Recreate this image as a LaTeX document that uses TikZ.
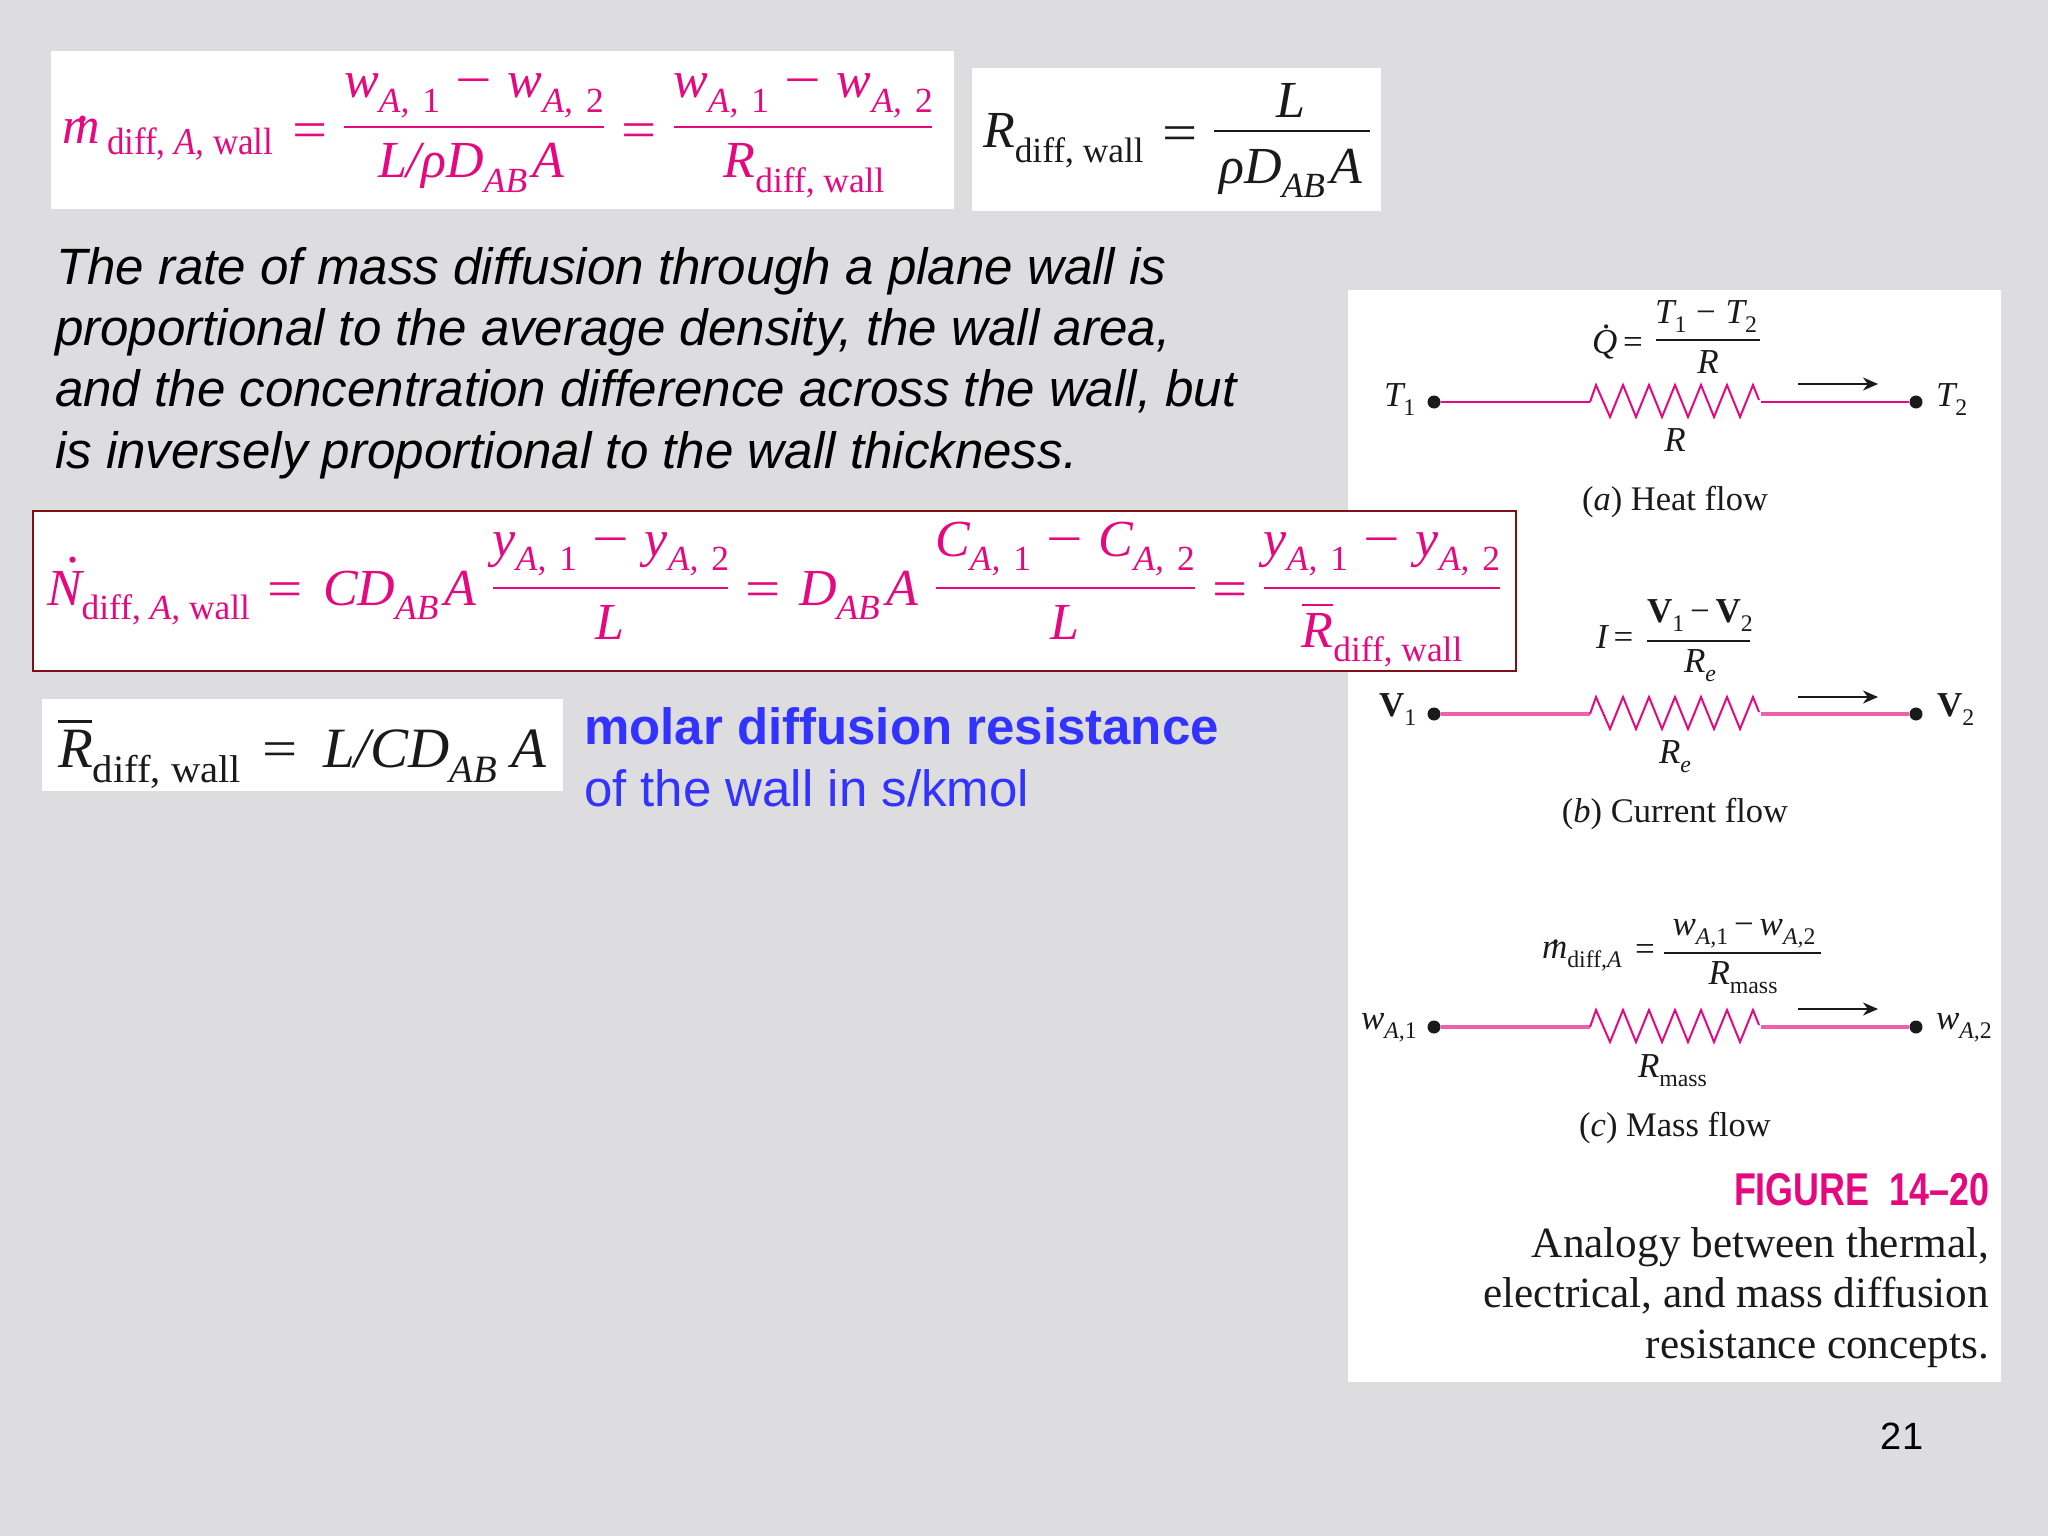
\documentclass[tikz,border=0pt]{standalone}
\usepackage{fontspec}
\usepackage{graphicx}
\setmainfont{Liberation Serif}
\newfontfamily\arialf{Liberation Sans}
\definecolor{bgc}{HTML}{DDDDDF}
\definecolor{pnk}{HTML}{E5097F}
\definecolor{blu}{HTML}{3333FF}
\definecolor{dred}{HTML}{7F1018}
\definecolor{ink}{HTML}{1A1A1A}
\newcommand{\Sb}[1]{\raisebox{-.28em}{\scalebox{.68}{#1}}}
\newcommand{\SbU}[1]{\Sb{\textup{#1}}}
\newcommand{\fs}[1]{\fontsize{#1}{#1}\selectfont}
\newcommand{\Eq}{\scalebox{1.2}[1]{\textup{=}}}
\newcommand{\Mn}{\hspace{.05em}\scalebox{1.25}[1]{\textup{−}}\hspace{.05em}}
\newcommand{\overR}[1]{\rlap{\raisebox{.78em}{\rule{.6em}{.045em}}}#1}
\newcommand{\Ndot}{\rlap{\raisebox{.82em}{\hspace{.38em}\textup{.}}}N}
\newcommand{\mdot}{\rlap{\raisebox{.42em}{\hspace{.27em}\textup{.}}}m}
\newcommand{\Qdot}{\rlap{\raisebox{.7em}{\hspace{.28em}\textup{.}}}Q}
\usetikzlibrary{arrows.meta}
\tikzset{
 txt/.style={inner sep=0pt,outer sep=0pt,anchor=base},
 lft/.style={txt,anchor=base west},
 rgt/.style={txt,anchor=base east},
 eqbig/.style={text=pnk,font=\fs{52}\itshape},
 eqblk/.style={text=ink,font=\fs{52}\itshape},
 eqmol/.style={text=ink,font=\fs{57}\itshape},
 smalleq/.style={text=ink,font=\fs{35}\itshape},
 capt/.style={text=ink,font=\fs{34.5}},
 figc/.style={rgt,text=ink,font=\fs{43.2}},
 para/.style={lft,text=black,font=\arialf\fs{51.1}\itshape},
 bluet/.style={lft,text=blu,font=\arialf\fs{51}},
 fbarp/.style={draw=pnk,line width=2.4pt},
 fbark/.style={draw=ink,line width=2pt},
 fbars/.style={draw=ink,line width=1.5pt},
 wire/.style={draw=pnk,line width=2.4pt},
 wirepale/.style={draw=pnk!65!white,line width=3.4pt},
 zigz/.style={draw=pnk,line width=2pt,line join=miter},
 dotn/.style={circle,fill=ink,inner sep=0pt,minimum size=13pt},
 flow/.style={draw=ink,line width=2pt,-{Stealth[length=15pt,width=13pt]}},
}
\newcommand{\zig}{-- ++(6,-17) -- ++(14,32) -- ++(13,-32) -- ++(13,32) -- ++(13,-32) -- ++(13,32) -- ++(13,-32) -- ++(13,32) -- ++(13,-32) -- ++(13,32) -- ++(13,-32) -- ++(13,32) -- ++(13,-32) -- ++(6,15)}
\begin{document}
\begin{tikzpicture}[x=1pt,y=-1pt]
\useasboundingbox (0,0) rectangle (2048,1536);
\fill[bgc] (0,0) rectangle (2048,1536);
% white panels
\fill[white] (51,51) rectangle (954,209);
\fill[white] (972,68) rectangle (1381,211);
\fill[white] (1348,290) rectangle (2001,1382);
\fill[white] (42,699) rectangle (563,791);
\draw[dred,line width=2pt,fill=white] (33,511) rectangle (1516,671);
% top left equation
\node[lft,eqbig] (m1) at (62,143) {\mdot};
\node[lft,eqbig,font=\fs{38}] (m1s) at (107,155) {\scalebox{.92}[1]{\textup{diff,} \textit{A,} \textup{wall}}};
\node[txt,eqbig] (m1e) at (310,147) {\Eq};
\node[txt,eqbig] (n1) at (474,98) {w\Sb{A,} \SbU{1} \Mn{} w\Sb{A,} \SbU{2}};
\draw[fbarp] (344,127) -- (604,127);
\node[txt,eqbig] (d1) at (471,178) {L/ρD\Sb{AB}\kern5ptA};
\node[txt,eqbig] (m2e) at (639,147) {\Eq};
\node[txt,eqbig] (n2) at (803,98) {w\Sb{A,} \SbU{1} \Mn{} w\Sb{A,} \SbU{2}};
\draw[fbarp] (674,127) -- (932,127);
\node[txt,eqbig] (d2) at (804,178) {R\SbU{diff, wall}};
% top right equation
\node[lft,eqblk] (r1) at (983,148) {R\SbU{diff, wall}};
\node[txt,eqblk] (r1e) at (1180,150) {\Eq};
\node[txt,eqblk] (r1n) at (1291,118) {L};
\draw[fbark] (1214,131) -- (1370,131);
\node[txt,eqblk] (r1d) at (1291,183) {ρD\Sb{AB}\kern6ptA};
% paragraph
\node[para] (p1) at (56,284) {The rate of mass diffusion through a plane wall is};
\node[para] (p2) at (55,345) {proportional to the average density, the wall area,};
\node[para] (p3) at (55,406) {and the concentration difference across the wall, but};
\node[para] (p4) at (55,468) {is inversely proportional to the wall thickness.};
% boxed equation
\node[lft,eqbig] (b0) at (47,605) {\Ndot\Sb{\textup{diff,} \textit{A,} \textup{wall}}};
\node[txt,eqbig] (b0e) at (285,606) {\Eq};
\node[lft,eqbig] (b1) at (323,605) {CD\Sb{AB}\kern6ptA};
\node[txt,eqbig] (bn1) at (611,556) {y\Sb{A,} \SbU{1} \Mn{} y\Sb{A,} \SbU{2}};
\draw[fbarp] (493,588) -- (728,588);
\node[txt,eqbig] (bd1) at (610,639) {L};
\node[txt,eqbig] (b1e) at (763,606) {\Eq};
\node[lft,eqbig] (b2) at (799,605) {D\Sb{AB}\kern7ptA};
\node[txt,eqbig] (bn2) at (1065,556) {C\Sb{A,} \SbU{1} \Mn{} C\Sb{A,} \SbU{2}};
\draw[fbarp] (936,588) -- (1195,588);
\node[txt,eqbig] (bd2) at (1065,639) {L};
\node[txt,eqbig] (b2e) at (1230,606) {\Eq};
\node[txt,eqbig] (bn3) at (1382,556) {y\Sb{A,} \SbU{1} \Mn{} y\Sb{A,} \SbU{2}};
\draw[fbarp] (1264,588) -- (1500,588);
\node[txt,eqbig] (bd3) at (1382,647) {\overR{R}\SbU{diff, wall}};
% molar
\node[lft,eqmol] (mr) at (58,767) {\overR{R}\scalebox{1.05}[1]{\SbU{diff, wall}}};
\node[txt,eqblk] (mre) at (280,766) {\Eq};
\node[lft,eqmol] (mrr) at (323,767) {L/CD\Sb{AB}\kern14ptA};
\node[bluet,font=\arialf\fs{51}\bfseries] (bl1) at (584,744) {molar diffusion resistance};
\node[bluet] (bl2) at (584,806) {of the wall in s/kmol};
\node[txt,text=black,font=\arialf\fs{38}] (pg) at (1902,1449) {21};
% (a)
\node[dotn] (t1) at (1434,402) {};
\node[dotn] (t2) at (1916,402) {};
\coordinate (al) at (1590,402);
\coordinate (ar) at (1761,402);
\draw[wire] (t1) -- (al);
\draw[wire] (ar) -- (t2);
\draw[zigz] (al) \zig;
\coordinate (a1) at (1798,384); \coordinate (a2) at (1878,384);
\draw[flow] (a1) -- (a2);
\node[lft,smalleq] (tl1) at (1384,406) {T\SbU{1}};
\node[lft,smalleq] (tl2) at (1936,406) {T\SbU{2}};
\node[lft,smalleq] (qq) at (1592,353) {\Qdot\,\textup{=}};
\node[txt,smalleq] (qn) at (1706,323) {T\SbU{1}\;\textup{−}\;T\SbU{2}};
\draw[fbars] (1656,340) -- (1760,340);
\node[txt,smalleq] (qd) at (1708,373) {R};
\node[txt,smalleq] (rla) at (1675,451) {R};
\node[txt,capt] (ca) at (1675,510) {(\textit{a}) Heat flow};
% (b)
\node[dotn] (v1) at (1434,714) {};
\node[dotn] (v2) at (1916,714) {};
\coordinate (bl) at (1590,714);
\coordinate (br) at (1761,714);
\draw[wirepale] (v1) -- (bl);
\draw[wirepale] (br) -- (v2);
\draw[zigz] (bl) \zig;
\coordinate (b1a) at (1798,697); \coordinate (b2a) at (1878,697);
\draw[flow] (b1a) -- (b2a);
\node[lft,smalleq] (vl1) at (1379,716) {\textbf{\textup{V}}\SbU{1}};
\node[lft,smalleq] (vl2) at (1937,716) {\textbf{\textup{V}}\SbU{2}};
\node[lft,smalleq] (ii) at (1596,648) {I\,\textup{=}};
\node[txt,smalleq] (in) at (1700,622) {\textbf{\textup{V}}\SbU{1}\,\textup{−}\,\textbf{\textup{V}}\SbU{2}};
\draw[fbars] (1647,641) -- (1750,641);
\node[txt,smalleq] (id) at (1700,672) {R\Sb{e}};
\node[txt,smalleq] (rlb) at (1675,763) {R\Sb{e}};
\node[txt,capt] (cb) at (1675,822) {(\textit{b}) Current flow};
% (c)
\node[dotn] (w1) at (1434,1027) {};
\node[dotn] (w2) at (1916,1027) {};
\coordinate (cl) at (1590,1027);
\coordinate (cr) at (1761,1027);
\draw[wirepale] (w1) -- (cl);
\draw[wirepale] (cr) -- (w2);
\draw[zigz] (cl) \zig;
\coordinate (c1a) at (1798,1009); \coordinate (c2a) at (1878,1009);
\draw[flow] (c1a) -- (c2a);
\node[lft,smalleq] (wl1) at (1361,1029) {w\Sb{A,\textup{1}}};
\node[lft,smalleq] (wl2) at (1936,1029) {w\Sb{A,\textup{2}}};
\node[lft,smalleq] (mm) at (1542,958) {\mdot\Sb{\textup{diff,}\textit{A}}};
\node[txt,smalleq] (mme) at (1645,960) {\textup{=}};
\node[txt,smalleq] (mn) at (1744,935) {w\Sb{A,\textup{1}}\,\textup{−}\,w\Sb{A,\textup{2}}};
\draw[fbars] (1664,953) -- (1821,953);
\node[txt,smalleq] (md) at (1743,984) {R\SbU{mass}};
\node[lft,smalleq] (rlc) at (1638,1077) {R\SbU{mass}};
\node[txt,capt] (cc) at (1675,1136) {(\textit{c}) Mass flow};
% figure caption
\node[rgt,text=pnk,font=\arialf\fs{46}\bfseries] (fg) at (1989,1205) {\scalebox{.78}[1]{FIGURE\hspace{.27em} 14–20}};
\node[figc] (f1) at (1989,1257) {Analogy between thermal,};
\node[figc] (f2) at (1989,1307) {electrical, and mass diffusion};
\node[figc] (f3) at (1989,1358) {resistance concepts.};
\end{tikzpicture}
\end{document}
